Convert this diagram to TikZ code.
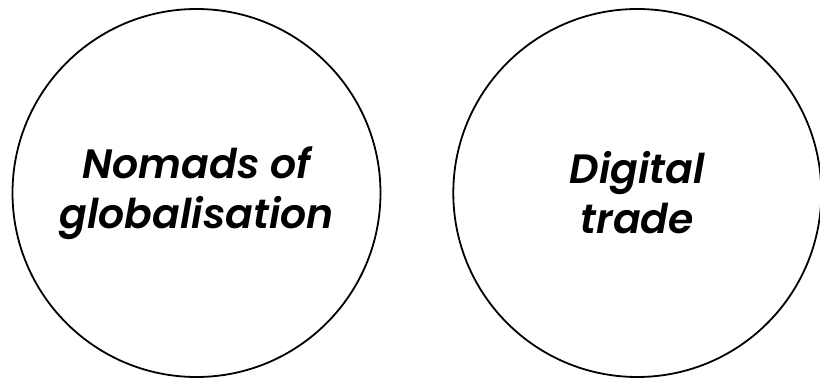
\documentclass[tikz,border=0pt]{standalone}
\usepackage{fontspec}
\setmainfont{Poppins}
\newfontfamily\topicfont{Poppins SemiBold Italic}
\usepackage{tikz}
\usetikzlibrary{positioning}

\tikzset{
  topic/.style={draw, circle, line width=1.8pt, minimum size=368pt,
                inner sep=0pt, align=center,
                font=\topicfont\fontsize{41}{50}\selectfont}
}

\begin{document}
\begin{tikzpicture}[x=1pt, y=1pt]
    \useasboundingbox (0,0) rectangle (820,378);
    \node[topic] (nomads) at (196.5,185) {Nomads of\\globalisation};
    \node[topic, right=71pt of nomads] (digital) {Digital\\trade};
  \end{tikzpicture}
\end{document}
